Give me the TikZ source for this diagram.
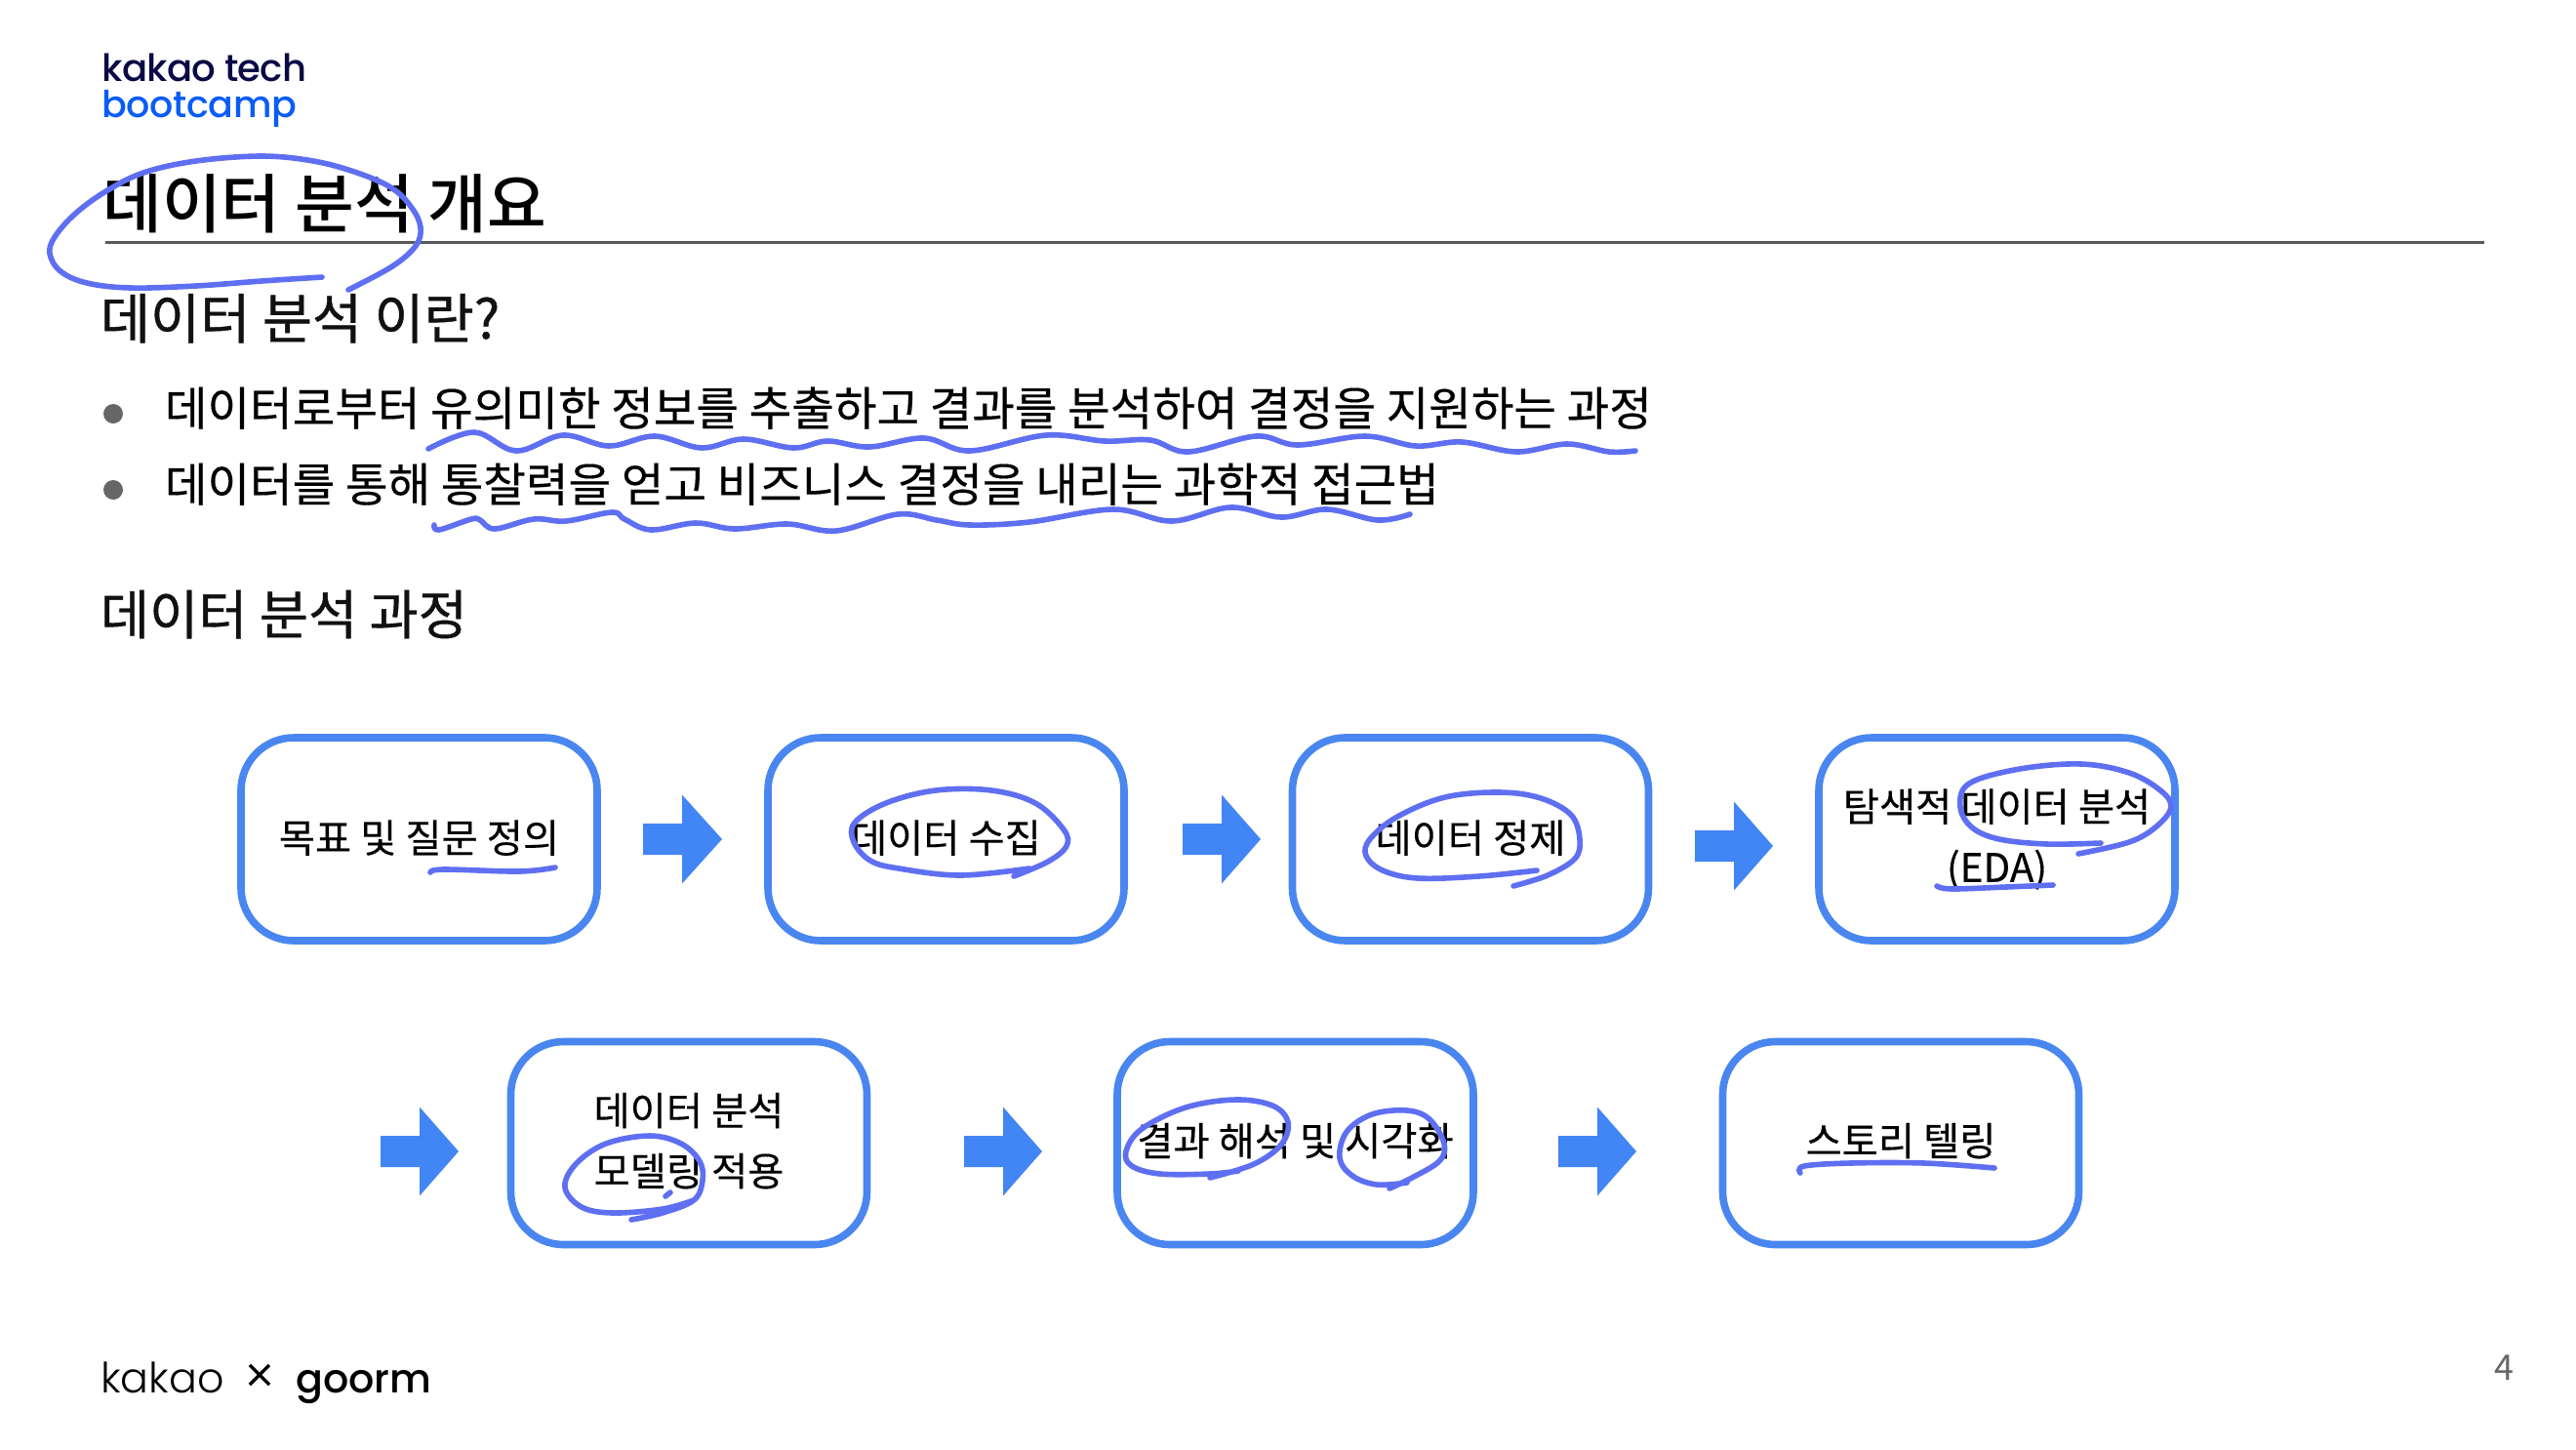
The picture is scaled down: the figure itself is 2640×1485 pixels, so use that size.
\documentclass[tikz,border=0pt]{standalone}
\usepackage{fontspec}
\setmainfont{Noto Sans CJK KR}
\newfontfamily\krsemi[FakeBold=0.3]{Noto Sans CJK KR}
\newfontfamily\krhead[FakeBold=0.7]{Noto Sans CJK KR}
\IfFontExistsTF{Noto Sans CJK KR Medium}{\newfontfamily\krmed{Noto Sans CJK KR Medium}}{\newfontfamily\krmed{Noto Sans CJK KR}}
\newfontfamily\pop{Poppins}
\IfFontExistsTF{Poppins Medium}{\newfontfamily\popmed{Poppins Medium}}{\newfontfamily\popmed{Poppins}}
\IfFontExistsTF{Poppins Light}{\newfontfamily\poplight{Poppins Light}}{\newfontfamily\poplight{Poppins}}
\definecolor{boxblue}{HTML}{4A86F0}
\definecolor{arrowblue}{HTML}{4285F4}
\definecolor{ink}{HTML}{5F6FF2}
\definecolor{navy}{HTML}{0A0A45}
\definecolor{logoblue}{HTML}{0A5CF5}
\definecolor{almostblack}{HTML}{111111}
\tikzset{
  flowbox/.style={draw=boxblue,line width=3.8pt,rounded corners=27pt,minimum width=182.5pt,minimum height=104pt,inner sep=0pt,align=center,font=\krsemi\fontsize{20.2}{31}\selectfont,text=black},
  inkline/.style={draw=ink,line width=2.8pt,line cap=round,line join=round},
  heading/.style={anchor=base west,inner sep=0pt,text=almostblack},
  bodytext/.style={anchor=base west,inner sep=0pt,font=\krsemi\fontsize{23.7}{24}\selectfont,text=black},
  bulletdot/.style={circle,fill=black!60,inner sep=0pt,minimum size=10pt},
}
\newcommand{\liftby}[2]{\raisebox{#1}[\height][\depth]{#2}}
\newcommand{\blockarrow}[4]{% tail x, base x, tip x, centre y
  \fill[arrowblue] (#1,#4-16) -- (#2,#4-16) -- (#2,#4-45.5) -- (#3,#4) -- (#2,#4+45.5) -- (#2,#4+16) -- (#1,#4+16) -- cycle;}
\begin{document}
\begin{tikzpicture}[x=0.5pt,y=-0.5pt]
\useasboundingbox[fill=white] (0,0) rectangle (2640,1485);
% logo
\node[anchor=base west,inner sep=0pt,text=navy,font=\popmed\fontsize{19.3}{20}\selectfont] (logoa) at (104,83) {\addfontfeature{LetterSpace=-2}kakao tech};
\node[anchor=base west,inner sep=0pt,text=logoblue,font=\popmed\fontsize{19}{20}\selectfont] (logob) at (104,120) {\addfontfeature{LetterSpace=-1}bootcamp};
% title
\node[anchor=base west,inner sep=0pt,font=\krmed\fontsize{33}{33}\selectfont,text=black] (title) at (105,233) {데이터 분석 개요};
\coordinate (ruleA) at (108,248);
\coordinate (ruleB) at (2546,248);
\draw[black!65,line width=1.5pt] (ruleA) -- (ruleB);
% headings and bullets
\node[heading,font=\krhead\fontsize{27.8}{28}\selectfont] (h1) at (102.5,347) {데이터 분석 이란?};
\node[bulletdot] (d1) at (116,424) {};
\node[bodytext] (b1) at (168.5,436) {데이터로부터 유의미한 정보를 추출하고 결과를 분석하여 결정을 지원하는 과정};
\node[bulletdot] (d2) at (116,502) {};
\node[bodytext] (b2) at (168.5,514) {데이터를 통해 통찰력을 얻고 비즈니스 결정을 내리는 과학적 접근법};
\node[heading,font=\krhead\fontsize{27.3}{28}\selectfont] (h2) at (102.5,650) {데이터 분석 과정};
% boxes
\node[flowbox] (s1) at (429.5,860) {\liftby{0.7pt}{목표 및 질문 정의}};
\node[flowbox] (s2) at (969.5,860) {\liftby{0.7pt}{데이터 수집}};
\node[flowbox] (s3) at (1507,860) {\liftby{0.7pt}{데이터 정제}};
\node[flowbox] (s4) at (2046.5,860) {탐색적 데이터 분석\\(EDA)};
\node[flowbox] (s5) at (706,1171.5) {\liftby{1.2pt}{데이터 분석}\\\liftby{1.2pt}{모델링 적용}};
\node[flowbox] (s6) at (1327.5,1171.5) {\liftby{1.2pt}{결과 해석 및 시각화}};
\node[flowbox] (s7) at (1948,1171.5) {\liftby{1.2pt}{스토리 텔링}};
% block arrows
\blockarrow{659}{699}{740}{860}
\blockarrow{1212}{1252}{1292}{860}
\blockarrow{1737}{1777}{1817}{867}
\blockarrow{390}{430}{470}{1180}
\blockarrow{988}{1028}{1068}{1180}
\blockarrow{1597}{1637}{1677}{1180}
% footer
\node[anchor=base west,inner sep=0pt,font=\poplight\fontsize{21.4}{22}\selectfont] (fk) at (103,1427) {kakao};
\node[anchor=center,inner sep=0pt,font=\poplight\fontsize{27}{27}\selectfont] (fx) at (266,1414) {×};
\node[anchor=base west,inner sep=0pt,font=\popmed\fontsize{20.6}{22}\selectfont] (fg) at (303,1427) {goorm};
\node[inner sep=0pt,text=black!60,font=\fontsize{18}{18}\selectfont] (pg) at (2566,1402) {4};
% handwritten marks
\draw[inkline] plot[smooth,tension=0.6] coordinates {(330,284)(268,288)(201,293)(134,295)(89,290)(62,278)(51,260)(56,243)(76,220)(107,197)(147,177)(201,165)(268,160)(321,165)(366,177)(402,193)(422,213)(431,233)(426,252)(402,273)(357,297)};
\draw[inkline] plot[smooth,tension=0.6] coordinates {(439,460)(486,443)(529,462)(577,446)(624,457)(671,447)(719,459)(762,450)(813,459)(848,452)(891,458)(947,449)(994,462)(1072,446)(1132,452)(1179,451)(1218,463)(1287,447)(1330,456)(1399,447)(1451,457)(1498,453)(1554,463)(1606,455)(1649,463)(1676,462)};
\draw[inkline] plot[smooth,tension=0.6] coordinates {(445,538)(450,543)(483,532)(492,533)(507,542)(547,532)(580,534)(627,525)(640,532)(667,543)(713,536)(753,542)(807,537)(857,544)(920,527)(960,533)(994,538)(1055,535)(1141,522)(1201,534)(1261,520)(1313,530)(1360,522)(1412,533)(1445,527)};
\draw[inkline] plot[smooth,tension=0.6] coordinates {(441,894)(455,891)(532,893)(569,889)};
\draw[inkline] plot[smooth,tension=0.6] coordinates {(1055,890)(984,897)(921,890)(892,882)(875,863)(876,843)(908,823)(959,810)(1016,810)(1061,823)(1090,850)(1093,867)(1074,883)(1039,898)};
\draw[inkline] plot[smooth,tension=0.6] coordinates {(1575,892)(1516,898)(1453,900)(1417,892)(1400,877)(1404,860)(1432,837)(1481,817)(1537,812)(1579,818)(1610,835)(1619,860)(1614,880)(1586,897)(1551,908)};
\draw[inkline] plot[smooth,tension=0.6] coordinates {(2153,864)(2098,865)(2049,860)(2021,848)(2009,827)(2018,803)(2070,788)(2133,783)(2182,792)(2214,810)(2225,827)(2210,847)(2182,863)(2130,875)};
\draw[inkline] plot[smooth,tension=0.6] coordinates {(1985,908)(2000,911)(2056,909)(2104,907)};
\draw[inkline] plot[smooth,tension=0.6] coordinates {(711,1230)(679,1239)(628,1243)(596,1237)(579,1217)(590,1193)(621,1172)(666,1164)(698,1172)(717,1190)(720,1210)(711,1230)(679,1243)(647,1250)};
\draw[inkline] (682,1226) -- (687,1222);
\draw[inkline] plot[smooth,tension=0.6] coordinates {(1269,1200)(1240,1203)(1189,1203)(1160,1195)(1154,1180)(1170,1157)(1215,1135)(1266,1127)(1304,1133)(1320,1150)(1313,1173)(1285,1193)(1240,1207)};
\draw[inkline] plot[smooth,tension=0.6] coordinates {(1442,1212)(1411,1214)(1386,1205)(1373,1187)(1380,1160)(1406,1142)(1442,1138)(1465,1147)(1480,1172)(1475,1190)(1447,1207)(1424,1218)};
\draw[inkline] plot[smooth,tension=0.6] coordinates {(1845,1202)(1849,1195)(1896,1192)(1972,1192)(2044,1197)};
\end{tikzpicture}
\end{document}
